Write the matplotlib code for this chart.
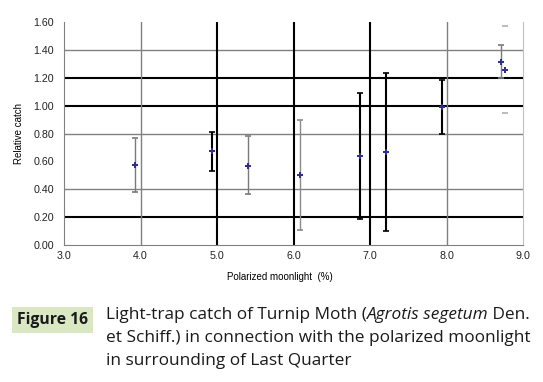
import matplotlib
matplotlib.use("Agg")
import matplotlib.pyplot as plt

# polarized moonlight (%) vs relative catch, with error bar half-widths
moonlight = [3.93, 4.94, 5.41, 6.08, 6.87, 7.21, 7.94, 8.71, 8.76]
catch = [0.575, 0.674, 0.568, 0.505, 0.635, 0.666, 0.991, 1.314, 1.256]
err_lo = [0.195, 0.142, 0.200, 0.397, 0.449, 0.566, 0.191, 0.118, 0.312]
err_hi = [0.195, 0.140, 0.212, 0.395, 0.453, 0.569, 0.193, 0.121, 0.316]
bar_colors = ["#7a7a7a", "black", "#7a7a7a", "#8a8a8a", "black", "black", "black", "#7a7a7a", "#b0b0b0"]
bar_widths = [1.0, 1.5, 1.0, 1.0, 1.5, 1.5, 1.5, 1.0, 0.0]

x_ticks = [3.0, 4.0, 5.0, 6.0, 7.0, 8.0, 9.0]
y_ticks = [0.0, 0.2, 0.4, 0.6, 0.8, 1.0, 1.2, 1.4, 1.6]
# which gridlines show, and how (as in the scanned figure)
y_grid = {0.2: "black", 0.4: "#808080", 0.8: "#808080", 1.0: "black", 1.2: "black", 1.4: "#808080"}
x_grid = {4.0: "#808080", 5.0: "black", 6.0: "black", 7.0: "black", 8.0: "#808080"}

caption_1 = ["Light-trap catch of Turnip Moth (", "Agrotis segetum", " Den."]
caption_2 = "et Schiff.) in connection with the polarized moonlight"
caption_3 = "in surrounding of Last Quarter"

plt.rcParams['font.family'] = ['Liberation Sans', 'DejaVu Sans']

W, H = 543, 382
fig = plt.figure(figsize=(W / 100, H / 100), dpi=100)
ax = fig.add_axes([64 / W, 1 - 245 / H, 459 / W, 223 / H])

for yv, c in y_grid.items():
    ax.axhline(yv, color=c, lw=1.5 if c == "black" else 1.0, zorder=1)
for xv, c in x_grid.items():
    ax.axvline(xv, color=c, lw=1.5 if c == "black" else 1.0, zorder=1)

for i in range(len(moonlight)):
    ax.errorbar(moonlight[i], catch[i], yerr=[[err_lo[i]], [err_hi[i]]], fmt='none',
                ecolor=bar_colors[i], elinewidth=bar_widths[i], capsize=2.5,
                capthick=1.2, zorder=3)
ax.plot(moonlight, catch, linestyle='none', marker='P', markersize=3.8,
        color='#2e2e8c', markeredgewidth=0, zorder=4)

ax.set_xlim(3.0, 9.0)
ax.set_ylim(0.0, 1.6)
ax.set_xticks(x_ticks)
ax.set_yticks(y_ticks)
ax.set_xticklabels([f"{v:.1f}" for v in x_ticks])
ax.set_yticklabels([f"{v:.2f}" for v in y_ticks])
ax.tick_params(length=0, labelsize=7.7, colors='#222222')
ax.tick_params(axis='y', pad=7)
ax.tick_params(axis='x', pad=4)

ax.spines['top'].set_visible(False)
ax.spines['left'].set_color('#808080')
ax.spines['bottom'].set_color('#808080')
ax.spines['right'].set_color('#c0c0c0')

ax.set_xlabel("Polarized moonlight  (%)", fontsize=7, labelpad=8)
ax.xaxis.set_label_coords((280 - 64) / 459, -0.12)
ax.set_ylabel("Relative catch", fontsize=7, labelpad=7)

# caption under the chart
fig.text(17 / W, 1 - 324 / H, "Figure 16", fontsize=11.3, fontweight='bold',
         family='Open Sans', color='#1a1a1a', va='baseline',
         bbox=dict(boxstyle='square,pad=0.3', fc='#d9e8c3', ec='none'))

cap_font = dict(fontsize=12.4, family='Open Sans', color='#1a1a1a', va='baseline')
x_left = 106 / W
renderer = fig.canvas.get_renderer()
x = x_left
for k, piece in enumerate(caption_1):
    t = fig.text(x, 1 - 319 / H, piece, style='italic' if k == 1 else 'normal', **cap_font)
    x = t.get_window_extent(renderer).x1 / fig.bbox.width
fig.text(x_left, 1 - 342 / H, caption_2, **cap_font)
fig.text(x_left, 1 - 365 / H, caption_3, **cap_font)

fig.savefig("out.png", dpi=100)
